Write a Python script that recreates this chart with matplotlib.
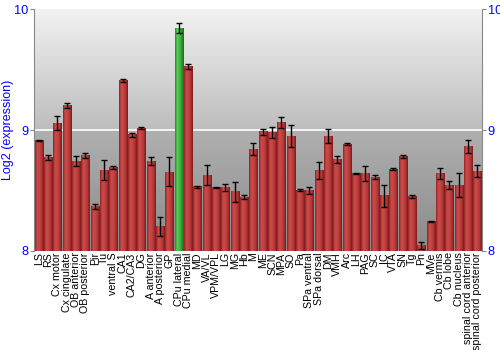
import numpy as np
import matplotlib
matplotlib.use("Agg")
import matplotlib.pyplot as plt
from matplotlib.colors import LinearSegmentedColormap

plt.rcParams["font.family"] = ["Liberation Sans", "DejaVu Sans"]

# Data (log2 expression)
regions = ["LS", "RS", "Cx motor", "Cx cingulate", "OB anterior", "OB posterior",
           "Pir", "Tu", "ventral S", "CA1", "CA2/CA3", "DG", "A anterior",
           "A posterior", "GP", "CPu lateral", "CPu medial", "MD", "VA/VL",
           "VPM/VPL", "LG", "MG", "Hb", "M", "ME", "SCN", "MPA", "SO", "Pa",
           "SPa ventral", "SPa dorsal", "DM", "VMH", "Arc", "LH", "PAG", "SC",
           "IC", "VTA", "SN", "Tg", "Pn", "MVe", "Cb vermis", "Cb lobe",
           "Cb nucleus", "spinal cord anterior", "spinal cord posterior"]
values = [8.915, 8.774, 9.058, 9.20, 8.744, 8.788, 8.366, 8.669, 8.69, 9.41,
          8.96, 9.017, 8.744, 8.20, 8.653, 9.843, 9.523, 8.531, 8.628, 8.523,
          8.526, 8.488, 8.446, 8.84, 8.986, 8.983, 9.063, 8.95, 8.504, 8.50,
          8.664, 8.95, 8.758, 8.884, 8.639, 8.642, 8.609, 8.457, 8.678, 8.782,
          8.449, 8.044, 8.245, 8.639, 8.545, 8.545, 8.865, 8.658]
errors = [0.005, 0.02, 0.06, 0.02, 0.045, 0.02, 0.02, 0.08, 0.01, 0.01,
          0.015, 0.005, 0.03, 0.08, 0.12, 0.04, 0.02, 0.01, 0.08, 0.005,
          0.03, 0.08, 0.02, 0.05, 0.025, 0.045, 0.045, 0.09, 0.005, 0.03,
          0.07, 0.06, 0.03, 0.01, 0.005, 0.06, 0.015, 0.09, 0.005, 0.015,
          0.015, 0.03, 0.005, 0.045, 0.03, 0.1, 0.055, 0.05]
highlight = "CPu lateral"

ymin, ymax = 8, 10
bar_w = 0.88

fig = plt.figure(figsize=(5, 3.5), dpi=100)
ax = fig.add_axes([0.068, 0.283, 0.896, 0.691])
n = len(regions)
x = np.arange(n)

# background gradient
bg = LinearSegmentedColormap.from_list(
    "bg", [(0, "#8a8a8a"), (0.5, "#b0b0b0"), (0.5, "#bdbdbd"), (1, "#f2f2f2")])
grad = np.linspace(0, 1, 256).reshape(-1, 1)
ax.imshow(grad, cmap=bg, origin="lower", aspect="auto",
          extent=(-0.5, n - 0.5, ymin, ymax), zorder=0)
ax.axhline(9, color="white", lw=1.2, zorder=1)

red = LinearSegmentedColormap.from_list(
    "red", ["#8f2222", "#cc4c4c", "#c44444", "#b03434", "#7a1a1a"])
green = LinearSegmentedColormap.from_list(
    "green", ["#228a22", "#5ccc5c", "#44b844", "#2f9a2f", "#186a18"])
hgrad = np.linspace(0, 1, 64).reshape(1, -1)

bars = ax.bar(x, np.array(values) - ymin, bottom=ymin, width=bar_w,
              color="none", edgecolor="none", zorder=2)
for b, name in zip(bars, regions):
    cm = green if name == highlight else red
    x0, y0 = b.get_x(), b.get_y()
    ax.imshow(hgrad, cmap=cm, aspect="auto", zorder=2,
              extent=(x0, x0 + b.get_width(), y0, y0 + b.get_height()))

ax.errorbar(x, values, yerr=errors, fmt="none", ecolor="black",
            elinewidth=1, capsize=2, capthick=1, zorder=3)

ax.set_xlim(-0.5, n - 0.5)
ax.set_ylim(ymin, ymax)
ax.set_xticks(x)
ax.set_xticklabels(regions, rotation=90, fontsize=7.7)
ax.tick_params(axis="x", length=0, pad=1)
ax.set_yticks([8, 9, 10])
ax.tick_params(axis="y", colors="#888888", labelcolor="blue", labelsize=9.2,
               length=3, labelright=True, right=True, pad=1)
ax.set_ylabel("Log2 (expression)", color="blue", fontsize=9)
ax.yaxis.set_label_coords(-0.044, 0.5)
for s in ax.spines.values():
    s.set_color("#888888")
    s.set_linewidth(0.8)
ax.spines["top"].set_visible(False)
ax.spines["bottom"].set_visible(False)

fig.savefig("out.png", dpi=100)
